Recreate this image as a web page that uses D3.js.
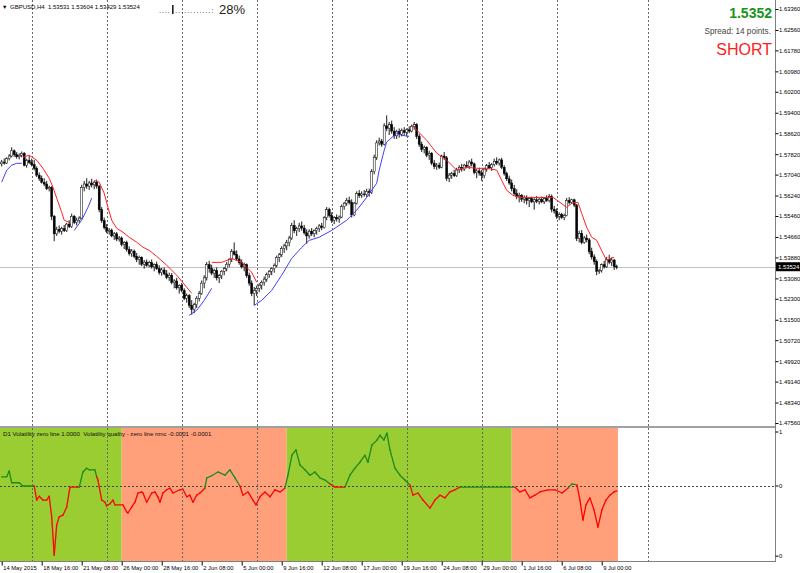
<!DOCTYPE html>
<html><head><meta charset="utf-8">
<script src="https://cdn.jsdelivr.net/npm/d3@7"></script>
<style>body{margin:0;background:#fff}svg{display:block}text{font-family:"Liberation Sans",Arial,sans-serif}</style>
</head><body><svg id="c" width="800" height="573"></svg>
<script>
// ---------- data ----------
const symbolLabel = "GBPUSD,H4";
const lastOHLC = [1.53531, 1.53604, 1.53429, 1.53524];
const bidText = "1.5352", spreadText = "Spread: 14 points.", signalText = "SHORT", pctText = "28%";
const indHeader = "D1 Volatility zero line 1.0000  Volatility quality - zero line nmc -0.0001 -0.0001";

// H4 candles [open, high, low, close], bar 0 = 14 May 2015 00:00
const candles = [
[1.5745,1.5760,1.5735,1.5752],[1.5752,1.5765,1.5742,1.5748],[1.5748,1.5770,1.5745,1.5765],[1.5765,1.5782,1.5758,1.5775],[1.5775,1.5808,1.5770,1.5795],[1.5795,1.5800,1.5772,1.5780],
[1.5780,1.5790,1.5765,1.5772],[1.5772,1.5785,1.5762,1.5778],[1.5778,1.5792,1.5770,1.5785],[1.5785,1.5790,1.5735,1.5740],[1.5740,1.5765,1.5730,1.5758],[1.5758,1.5775,1.5745,1.5750],
[1.5750,1.5765,1.5735,1.5742],[1.5742,1.5760,1.5720,1.5728],[1.5728,1.5735,1.5695,1.5702],[1.5702,1.5712,1.5680,1.5690],[1.5690,1.5700,1.5670,1.5675],[1.5675,1.5690,1.5660,1.5668],
[1.5668,1.5680,1.5645,1.5650],[1.5650,1.5662,1.5640,1.5655],[1.5655,1.5660,1.5530,1.5545],[1.5545,1.5550,1.5450,1.5478],[1.5478,1.5505,1.5470,1.5495],[1.5495,1.5510,1.5480,1.5488],
[1.5488,1.5505,1.5475,1.5498],[1.5498,1.5512,1.5485,1.5490],[1.5490,1.5520,1.5485,1.5515],[1.5515,1.5530,1.5500,1.5505],[1.5505,1.5555,1.5500,1.5545],[1.5545,1.5550,1.5515,1.5522],
[1.5522,1.5540,1.5510,1.5530],[1.5530,1.5545,1.5520,1.5538],[1.5538,1.5665,1.5535,1.5655],[1.5655,1.5680,1.5640,1.5668],[1.5668,1.5690,1.5650,1.5660],[1.5660,1.5680,1.5645,1.5672],
[1.5672,1.5688,1.5655,1.5665],[1.5665,1.5680,1.5648,1.5675],[1.5675,1.5685,1.5650,1.5660],[1.5660,1.5665,1.5560,1.5570],[1.5570,1.5580,1.5520,1.5528],[1.5528,1.5540,1.5495,1.5502],
[1.5502,1.5515,1.5480,1.5488],[1.5488,1.5500,1.5475,1.5492],[1.5492,1.5498,1.5465,1.5470],[1.5470,1.5485,1.5455,1.5478],[1.5478,1.5485,1.5450,1.5458],[1.5458,1.5470,1.5448,1.5462],
[1.5462,1.5468,1.5430,1.5438],[1.5438,1.5450,1.5420,1.5445],[1.5445,1.5452,1.5410,1.5418],[1.5418,1.5430,1.5395,1.5402],[1.5402,1.5420,1.5390,1.5412],[1.5412,1.5418,1.5385,1.5392],
[1.5392,1.5405,1.5370,1.5380],[1.5380,1.5395,1.5360,1.5388],[1.5388,1.5392,1.5355,1.5362],[1.5362,1.5378,1.5345,1.5370],[1.5370,1.5380,1.5352,1.5358],[1.5358,1.5375,1.5350,1.5368],
[1.5368,1.5380,1.5345,1.5352],[1.5352,1.5365,1.5335,1.5360],[1.5360,1.5372,1.5340,1.5345],[1.5345,1.5358,1.5322,1.5330],[1.5330,1.5348,1.5318,1.5340],[1.5340,1.5350,1.5320,1.5325],
[1.5325,1.5340,1.5305,1.5312],[1.5312,1.5330,1.5298,1.5320],[1.5320,1.5328,1.5285,1.5292],[1.5292,1.5305,1.5270,1.5298],[1.5298,1.5310,1.5265,1.5272],[1.5272,1.5285,1.5250,1.5280],
[1.5280,1.5290,1.5255,1.5262],[1.5262,1.5270,1.5225,1.5232],[1.5232,1.5250,1.5215,1.5242],[1.5242,1.5248,1.5195,1.5205],[1.5205,1.5225,1.5170,1.5190],[1.5190,1.5215,1.5175,1.5208],
[1.5208,1.5240,1.5195,1.5232],[1.5232,1.5260,1.5220,1.5250],[1.5250,1.5300,1.5245,1.5290],[1.5290,1.5320,1.5270,1.5310],[1.5310,1.5370,1.5300,1.5360],[1.5360,1.5375,1.5330,1.5345],
[1.5345,1.5360,1.5320,1.5328],[1.5328,1.5345,1.5310,1.5338],[1.5338,1.5350,1.5300,1.5310],[1.5310,1.5325,1.5290,1.5318],[1.5318,1.5340,1.5305,1.5335],[1.5335,1.5352,1.5320,1.5345],
[1.5345,1.5370,1.5335,1.5362],[1.5362,1.5385,1.5350,1.5380],[1.5380,1.5420,1.5370,1.5410],[1.5410,1.5445,1.5395,1.5400],[1.5400,1.5415,1.5375,1.5382],[1.5382,1.5395,1.5360,1.5368],
[1.5368,1.5380,1.5345,1.5352],[1.5352,1.5368,1.5335,1.5360],[1.5360,1.5365,1.5310,1.5318],[1.5318,1.5330,1.5280,1.5290],[1.5290,1.5300,1.5240,1.5250],[1.5250,1.5275,1.5205,1.5262],
[1.5262,1.5280,1.5240,1.5270],[1.5270,1.5290,1.5255,1.5282],[1.5282,1.5300,1.5265,1.5292],[1.5292,1.5315,1.5280,1.5305],[1.5305,1.5330,1.5295,1.5322],[1.5322,1.5340,1.5310,1.5335],
[1.5335,1.5350,1.5320,1.5345],[1.5345,1.5365,1.5330,1.5358],[1.5358,1.5395,1.5350,1.5388],[1.5388,1.5405,1.5370,1.5398],[1.5398,1.5430,1.5390,1.5422],[1.5422,1.5440,1.5405,1.5432],
[1.5432,1.5455,1.5415,1.5445],[1.5445,1.5470,1.5430,1.5462],[1.5462,1.5520,1.5455,1.5510],[1.5510,1.5530,1.5480,1.5490],[1.5490,1.5505,1.5470,1.5498],[1.5498,1.5520,1.5485,1.5508],
[1.5508,1.5525,1.5490,1.5500],[1.5500,1.5512,1.5475,1.5482],[1.5482,1.5495,1.5440,1.5470],[1.5470,1.5495,1.5460,1.5488],[1.5488,1.5500,1.5470,1.5478],[1.5478,1.5495,1.5465,1.5490],
[1.5490,1.5505,1.5475,1.5498],[1.5498,1.5515,1.5485,1.5508],[1.5508,1.5520,1.5492,1.5502],[1.5502,1.5545,1.5498,1.5540],[1.5540,1.5580,1.5530,1.5570],[1.5570,1.5578,1.5540,1.5548],
[1.5548,1.5560,1.5520,1.5530],[1.5530,1.5545,1.5515,1.5540],[1.5540,1.5552,1.5525,1.5535],[1.5535,1.5548,1.5520,1.5542],[1.5542,1.5590,1.5538,1.5582],[1.5582,1.5600,1.5570,1.5595],
[1.5595,1.5615,1.5585,1.5605],[1.5605,1.5620,1.5590,1.5598],[1.5598,1.5610,1.5540,1.5550],[1.5550,1.5600,1.5545,1.5595],[1.5595,1.5640,1.5590,1.5632],[1.5632,1.5645,1.5615,1.5625],
[1.5625,1.5640,1.5615,1.5630],[1.5630,1.5645,1.5620,1.5628],[1.5628,1.5650,1.5618,1.5640],[1.5640,1.5650,1.5620,1.5635],[1.5635,1.5725,1.5630,1.5715],[1.5715,1.5780,1.5705,1.5770],
[1.5770,1.5835,1.5760,1.5825],[1.5825,1.5845,1.5815,1.5832],[1.5832,1.5840,1.5810,1.5820],[1.5820,1.5900,1.5815,1.5890],[1.5890,1.5930,1.5870,1.5880],[1.5880,1.5905,1.5855,1.5895],
[1.5895,1.5910,1.5860,1.5870],[1.5870,1.5885,1.5840,1.5852],[1.5852,1.5875,1.5840,1.5868],[1.5868,1.5880,1.5845,1.5858],[1.5858,1.5880,1.5850,1.5872],[1.5872,1.5885,1.5855,1.5865],
[1.5865,1.5880,1.5850,1.5875],[1.5875,1.5888,1.5862,1.5870],[1.5870,1.5895,1.5865,1.5888],[1.5888,1.5905,1.5875,1.5895],[1.5895,1.5900,1.5840,1.5850],[1.5850,1.5860,1.5810,1.5820],
[1.5820,1.5830,1.5790,1.5800],[1.5800,1.5815,1.5785,1.5808],[1.5808,1.5812,1.5770,1.5778],[1.5778,1.5795,1.5760,1.5785],[1.5785,1.5790,1.5740,1.5748],[1.5748,1.5760,1.5725,1.5735],
[1.5735,1.5748,1.5722,1.5740],[1.5740,1.5750,1.5725,1.5732],[1.5732,1.5780,1.5728,1.5775],[1.5775,1.5790,1.5760,1.5768],[1.5768,1.5775,1.5680,1.5690],[1.5690,1.5710,1.5675,1.5702],
[1.5702,1.5715,1.5688,1.5708],[1.5708,1.5722,1.5695,1.5700],[1.5700,1.5730,1.5695,1.5722],[1.5722,1.5740,1.5710,1.5732],[1.5732,1.5745,1.5715,1.5725],[1.5725,1.5745,1.5718,1.5740],
[1.5740,1.5755,1.5728,1.5735],[1.5735,1.5760,1.5725,1.5752],[1.5752,1.5765,1.5735,1.5745],[1.5745,1.5750,1.5705,1.5712],[1.5712,1.5725,1.5690,1.5718],[1.5718,1.5730,1.5700,1.5710],
[1.5710,1.5722,1.5680,1.5700],[1.5700,1.5730,1.5690,1.5725],[1.5725,1.5745,1.5715,1.5738],[1.5738,1.5752,1.5725,1.5730],[1.5730,1.5748,1.5718,1.5742],[1.5742,1.5765,1.5735,1.5755],
[1.5755,1.5770,1.5740,1.5748],[1.5748,1.5765,1.5738,1.5760],[1.5760,1.5768,1.5725,1.5732],[1.5732,1.5740,1.5700,1.5708],[1.5708,1.5715,1.5680,1.5688],[1.5688,1.5700,1.5665,1.5672],
[1.5672,1.5685,1.5640,1.5650],[1.5650,1.5665,1.5625,1.5632],[1.5632,1.5648,1.5610,1.5620],[1.5620,1.5635,1.5598,1.5625],[1.5625,1.5630,1.5600,1.5610],[1.5610,1.5625,1.5595,1.5615],
[1.5615,1.5625,1.5590,1.5605],[1.5605,1.5618,1.5580,1.5612],[1.5612,1.5620,1.5595,1.5600],[1.5600,1.5615,1.5570,1.5608],[1.5608,1.5622,1.5595,1.5602],[1.5602,1.5615,1.5590,1.5610],
[1.5610,1.5620,1.5595,1.5600],[1.5600,1.5618,1.5592,1.5612],[1.5612,1.5625,1.5600,1.5605],[1.5605,1.5630,1.5598,1.5620],[1.5620,1.5628,1.5560,1.5572],[1.5572,1.5585,1.5555,1.5565],
[1.5565,1.5575,1.5535,1.5545],[1.5545,1.5560,1.5530,1.5552],[1.5552,1.5558,1.5535,1.5540],[1.5540,1.5555,1.5530,1.5548],[1.5548,1.5615,1.5545,1.5605],[1.5605,1.5618,1.5590,1.5598],
[1.5598,1.5612,1.5592,1.5608],[1.5608,1.5612,1.5580,1.5588],[1.5588,1.5592,1.5450,1.5460],[1.5460,1.5490,1.5445,1.5480],[1.5480,1.5492,1.5438,1.5445],[1.5445,1.5470,1.5440,1.5462],
[1.5462,1.5475,1.5445,1.5455],[1.5455,1.5462,1.5400,1.5410],[1.5410,1.5425,1.5380,1.5390],[1.5390,1.5400,1.5360,1.5372],[1.5372,1.5380,1.5320,1.5335],[1.5335,1.5345,1.5325,1.5338],
[1.5338,1.5365,1.5330,1.5360],[1.5360,1.5375,1.5345,1.5352],[1.5352,1.5390,1.5348,1.5380],[1.5380,1.5398,1.5362,1.5370],[1.5370,1.5388,1.5355,1.5378],[1.5378,1.5382,1.5340,1.5353],
[1.53531,1.53604,1.53429,1.53524]
];

// trend line segments: [bar, price]
const maSegments = [
 {c:"b", pts:[[0,1.5675],[2,1.5721],[4,1.5740],[6,1.5747],[8,1.5747]]},
 {c:"r", pts:[[8.5,1.5770],[11,1.5778],[14,1.5759],[16.5,1.5728],[19,1.5690],[20.5,1.5656],[22,1.5614],[24,1.5560],[25,1.5530],[27,1.5522]]},
 {c:"b", pts:[[29,1.5491],[32,1.5530],[34.5,1.5579],[36,1.5614]]},
 {c:"r", pts:[[37,1.5682],[39,1.5675],[41,1.5633],[42.5,1.5579],[44,1.5530],[46,1.5499],[48.5,1.5484],[51,1.5465],[54,1.5446],[56.5,1.5427],[59,1.5415],[62,1.5392],[66,1.5358],[70,1.5320],[74,1.5274],[76,1.5251]]},
 {c:"b", pts:[[75,1.5167],[78,1.5186],[81,1.5224],[84,1.5270]]},
 {c:"r", pts:[[84,1.5369],[88,1.5369],[92,1.5384],[96,1.5369],[100,1.5331],[102,1.5293]]},
 {c:"b", pts:[[101,1.5205],[104,1.5224],[108,1.5262],[112,1.5320],[116,1.5384],[120,1.5426],[123,1.5453],[127,1.5465],[132,1.5491],[138,1.5530],[142,1.5568],[146,1.5617],[150,1.5671],[151,1.5721],[153,1.5797],[154,1.5828],[158,1.5862],[160,1.5854],[163,1.5850]]},
 {c:"r", pts:[[164,1.5893],[170,1.5835],[174,1.5786],[178,1.5759],[182,1.5721],[186,1.5732],[190,1.5728],[194,1.5728],[198,1.5721],[200,1.5682],[202,1.5644],[204.5,1.5625],[207,1.5617],[212.5,1.5617],[218,1.5617],[220.5,1.5617],[223.3,1.5598],[226,1.5579],[228,1.5595],[230.5,1.5598],[232,1.5556],[234,1.5503],[236,1.5465],[238,1.5453],[240.5,1.5404],[242,1.5377],[244.5,1.5388],[245,1.5388]]}
];

// volatility quality line [bar, value, colour]
const vq = [
[0,0.17,"g"],[2,0.17,"g"],[3,0.28,"g"],[4,0.06,"g"],[7,0.06,"g"],[8.5,0,"g"],[13,0,"g"],
[14,-0.26,"r"],[15,-0.19,"r"],[16.5,-0.26,"r"],[18,-0.26,"r"],[19,-0.19,"r"],[20,-0.57,"r"],[21,-1.28,"r"],[22,-0.72,"r"],[23,-0.57,"r"],[24.5,-0.54,"r"],[26,-0.39,"r"],[27.3,-0.02,"r"],[31,-0.02,"r"],
[32.5,0.26,"g"],[34,0.33,"g"],[35,0.3,"g"],[37.3,0.3,"g"],[38,0.17,"g"],
[38.5,0.11,"r"],[40,-0.26,"r"],[41.3,-0.3,"r"],[42,-0.37,"r"],[43.3,-0.33,"r"],[44.5,-0.26,"r"],[45.3,-0.35,"r"],[48.5,-0.35,"r"],[50,-0.48,"r"],[50.5,-0.5,"r"],[52,-0.39,"r"],[53.3,-0.3,"r"],[54.5,-0.13,"r"],[56,-0.11,"r"],[56.5,-0.13,"r"],[58,-0.3,"r"],[60,-0.13,"r"],[61.3,-0.11,"r"],[62.5,-0.2,"r"],[63.3,-0.3,"r"],[64.5,-0.13,"r"],[66,-0.07,"r"],[67.3,-0.04,"r"],[68.5,-0.13,"r"],[71.3,-0.07,"r"],[72.5,-0.06,"r"],[74,-0.2,"r"],[75.3,-0.17,"r"],[76.5,-0.3,"r"],[78,-0.17,"r"],[79.3,-0.13,"r"],[81.3,-0.04,"r"],
[82,0.15,"g"],[84,0.19,"g"],[86.5,0.26,"g"],[89.3,0.2,"g"],[91.3,0.3,"g"],[93.3,0.15,"g"],[95.3,0,"g"],
[96.5,-0.17,"r"],[98.5,-0.11,"r"],[100.5,-0.26,"r"],[101.7,-0.35,"r"],[103.3,-0.2,"r"],[105.3,-0.11,"r"],[107.3,-0.2,"r"],[109.3,-0.07,"r"],[111.3,-0.11,"r"],[113.3,-0.04,"r"],
[114.5,0.2,"g"],[116.1,0.57,"g"],[117.7,0.67,"g"],[119.3,0.39,"g"],[121.3,0.3,"g"],[123.3,0.2,"g"],[125.3,0.26,"g"],[127.3,0.15,"g"],[129.3,0.11,"g"],[131.3,0.04,"g"],
[133.3,-0.02,"r"],[137.3,-0.02,"r"],
[139.3,0.2,"g"],[141.3,0.33,"g"],[143.3,0.44,"g"],[145.3,0.57,"g"],[146.5,0.44,"g"],[148.1,0.76,"g"],[150.1,0.85,"g"],[151.3,0.94,"g"],[152.9,0.85,"g"],[154.1,0.98,"g"],[155.3,0.67,"g"],[157.3,0.33,"g"],[159.3,0.2,"g"],[161.3,0.11,"g"],[163.3,0.02,"g"],
[164.5,-0.17,"r"],[166.5,-0.13,"r"],[168.5,-0.26,"r"],[171.3,-0.41,"r"],[173.3,-0.26,"r"],[175.3,-0.17,"r"],[177.3,-0.22,"r"],[179.3,-0.11,"r"],[181.3,-0.07,"r"],[183.3,-0.02,"r"],
[205.3,-0.02,"g"],
[207.3,-0.11,"r"],[209.3,-0.07,"r"],[211.3,-0.22,"r"],[213.3,-0.17,"r"],[215.3,-0.11,"r"],[218.5,-0.07,"r"],[221.3,-0.07,"r"],[224.1,-0.13,"r"],[226.5,-0.04,"r"],
[228.1,0.04,"g"],[230.1,0.02,"g"],
[231.3,-0.26,"r"],[232.5,-0.63,"r"],[233.7,-0.35,"r"],[235.3,-0.22,"r"],[236.9,-0.44,"r"],[238.5,-0.76,"r"],[240.1,-0.44,"r"],[241.7,-0.26,"r"],[243.3,-0.17,"r"],[244.9,-0.11,"r"],[246.1,-0.09,"r"]
];

// D1 volatility state bands [fromBar, toBar, state]
const bands = [[-1,48,"g"],[48,114,"s"],[114,204,"g"],[204,246.5,"s"]];

const priceTicks = [1.63360,1.62560,1.61780,1.60980,1.60200,1.59400,1.58620,1.57820,1.57040,1.56240,1.55460,1.54660,1.53880,1.53080,1.52300,1.51500,1.50720,1.49920,1.49140,1.48340,1.47560];
const timeTicks = [[0,"14 May 2015"],[16,"18 May 16:00"],[32,"21 May 08:00"],[48,"26 May 00:00"],[64,"28 May 16:00"],[80,"2 Jun 08:00"],[96,"5 Jun 00:00"],[112,"9 Jun 16:00"],[128,"12 Jun 08:00"],[144,"17 Jun 00:00"],[160,"19 Jun 16:00"],[176,"24 Jun 08:00"],[192,"29 Jun 00:00"],[208,"1 Jul 16:00"],[224,"6 Jul 08:00"],[240,"9 Jul 00:00"]];
const gridBars = [12,42,72,102,132,162,192,222,258.5];
const indTicks = [[1,"1"],[0,"0"],[-1.3,"0"]];

// ---------- layout ----------
const svg = d3.select("#c");
const axisX = 775, mainBot = 426, indTop = 428, indBot = 561;
const x = d3.scaleLinear().domain([0,240]).range([1.7,601.7]);
const y = d3.scaleLinear().domain([1.4756,1.6336]).range([423,9]);
const yi = d3.scaleLinear().domain([0,1]).range([486,432]);

const defs = svg.append("defs");
defs.append("clipPath").attr("id","cm").append("rect").attr("x",0).attr("y",0).attr("width",axisX).attr("height",mainBot);
defs.append("clipPath").attr("id","ci").append("rect").attr("x",0).attr("y",indTop).attr("width",axisX).attr("height",indBot-indTop);

svg.append("rect").attr("width",800).attr("height",573).attr("fill","#fff");

// indicator bands
const gi = svg.append("g").attr("clip-path","url(#ci)");
gi.selectAll("rect.band").data(bands).join("rect")
  .attr("x",d=>Math.max(0,x(d[0]))).attr("y",indTop)
  .attr("width",d=>x(d[1])-Math.max(0,x(d[0]))).attr("height",indBot-indTop)
  .attr("fill",d=>d[2]==="g"?"#9acd32":"#ffa07a");

// vertical grid
[[0,mainBot],[indTop,indBot]].forEach(([a,b])=>{
  svg.append("g").selectAll("line").data(gridBars).join("line")
    .attr("x1",d=>Math.round(x(d))+0.5).attr("x2",d=>Math.round(x(d))+0.5)
    .attr("y1",a).attr("y2",b)
    .attr("stroke","#666").attr("stroke-width",1).attr("stroke-dasharray","2,2");
});

// zero line
gi.append("line").attr("x1",0).attr("x2",axisX).attr("y1",Math.round(yi(0))+0.5).attr("y2",Math.round(yi(0))+0.5)
  .attr("stroke","#444").attr("stroke-dasharray","2,2");

// vq line segments
const vqSeg = d3.pairs(vq);
gi.selectAll("line.vq").data(vqSeg).join("line")
  .attr("x1",d=>x(d[0][0])).attr("y1",d=>yi(d[0][1]))
  .attr("x2",d=>x(d[1][0])).attr("y2",d=>yi(d[1][1]))
  .attr("stroke",d=>d[1][2]==="g"?"#1a8a1a":"#ff0000").attr("stroke-width",1.3).attr("stroke-linecap","round");

// main panel
const gm = svg.append("g").attr("clip-path","url(#cm)");
const last = lastOHLC[3];
gm.append("line").attr("x1",0).attr("x2",axisX).attr("y1",Math.round(y(last))+0.5).attr("y2",Math.round(y(last))+0.5)
  .attr("stroke","#c0c0c0");

const cg = gm.append("g");
cg.selectAll("line.w").data(candles).join("line")
  .attr("x1",(d,i)=>x(i)).attr("x2",(d,i)=>x(i))
  .attr("y1",d=>y(d[1])).attr("y2",d=>y(d[2]))
  .attr("stroke","#000").attr("stroke-width",0.9);
cg.selectAll("rect.b").data(candles).join("rect")
  .attr("x",(d,i)=>x(i)-1).attr("width",2)
  .attr("y",d=>y(Math.max(d[0],d[3])))
  .attr("height",d=>Math.max(0.6,Math.abs(y(d[0])-y(d[3]))))
  .attr("fill",d=>d[3]>=d[0]?"#fff":"#000")
  .attr("stroke","#000").attr("stroke-width",0.5);

const maLine = d3.line().x(d=>x(d[0])).y(d=>y(d[1]));
gm.selectAll("path.ma").data(maSegments).join("path")
  .attr("d",d=>maLine(d.pts)).attr("fill","none")
  .attr("stroke",d=>d.c==="b"?"#4040ff":"#ff2020").attr("stroke-width",1);

// separators / borders
svg.append("rect").attr("x",0).attr("y",mainBot).attr("width",axisX).attr("height",indTop-mainBot).attr("fill","#a0a0a0");
svg.append("line").attr("x1",0).attr("x2",axisX).attr("y1",indBot+0.5).attr("y2",indBot+0.5).attr("stroke","#808080");
svg.append("line").attr("x1",axisX+0.5).attr("x2",axisX+0.5).attr("y1",0).attr("y2",indBot+1).attr("stroke","#808080");

// price axis
const ay = svg.append("g").attr("transform",`translate(${axisX+0.5},0)`)
  .call(d3.axisRight(y).tickValues(priceTicks).tickSize(3).tickFormat(d=>d.toFixed(5)));
ay.select(".domain").remove();
ay.selectAll("line").attr("stroke","#000");
ay.selectAll("text").attr("font-size","5.9px").attr("fill","#000").attr("x",3.5).attr("font-family","Liberation Sans, Arial");

// last price box
svg.append("rect").attr("x",axisX+1).attr("y",y(last)-4.5).attr("width",25).attr("height",9).attr("fill","#000");
svg.append("text").attr("x",axisX+3).attr("y",y(last)+2).attr("font-size","5.9px").attr("fill","#fff").text(last.toFixed(5));

// indicator axis
const ai = svg.append("g").attr("transform",`translate(${axisX+0.5},0)`);
ai.selectAll("g").data(indTicks).join("g").each(function(d){
  const g=d3.select(this), yy=Math.min(indBot-4,Math.max(indTop+4,yi(d[0])));
  g.append("line").attr("x1",0).attr("x2",3).attr("y1",yy).attr("y2",yy).attr("stroke","#000");
  g.append("text").attr("x",3.5).attr("y",yy+2).attr("font-size","5.9px").text(d[1]);
});

// time axis
const ax = svg.append("g").attr("transform",`translate(0,${indBot+0.5})`)
  .call(d3.axisBottom(x).tickValues(timeTicks.map(d=>d[0])).tickSize(4).tickFormat((d,i)=>timeTicks[i][1]));
ax.select(".domain").remove();
ax.selectAll("line").attr("stroke","#000");
ax.selectAll("text").attr("text-anchor","start").attr("x",1).attr("dy",0).attr("y",8).attr("font-size","5.8px").attr("fill","#000");

// header texts
svg.append("text").attr("x",2).attr("y",9).attr("font-size","5.5px").text("▼");
svg.append("text").attr("x",10).attr("y",9).attr("font-size","6px").attr("xml:space","preserve")
  .text(symbolLabel+"  "+lastOHLC.map(v=>v.toFixed(5)).join(" "));
svg.append("text").attr("x",159).attr("y",13).attr("font-size","8px").attr("fill","#333").attr("letter-spacing","0.6").text("....");
svg.append("rect").attr("x",172).attr("y",5).attr("width",1.6).attr("height",9).attr("fill","#222");
svg.append("text").attr("x",175).attr("y",13).attr("font-size","8px").attr("fill","#333").attr("letter-spacing","0.8").text("............:");
svg.append("text").attr("x",219).attr("y",14).attr("font-size","13px").attr("fill","#222").text(pctText);

svg.append("text").attr("x",772).attr("y",18).attr("text-anchor","end").attr("font-size","14px").attr("font-weight","bold").attr("fill","#17941a").text(bidText);
svg.append("text").attr("x",771).attr("y",34).attr("text-anchor","end").attr("font-size","8.2px").attr("fill","#444").text(spreadText);
svg.append("text").attr("x",772).attr("y",55).attr("text-anchor","end").attr("font-size","16px").attr("fill","#ff2020").text(signalText);

svg.append("text").attr("x",3).attr("y",436).attr("font-size","6.1px").attr("fill","#111").attr("xml:space","preserve").text(indHeader);
</script></body></html>
